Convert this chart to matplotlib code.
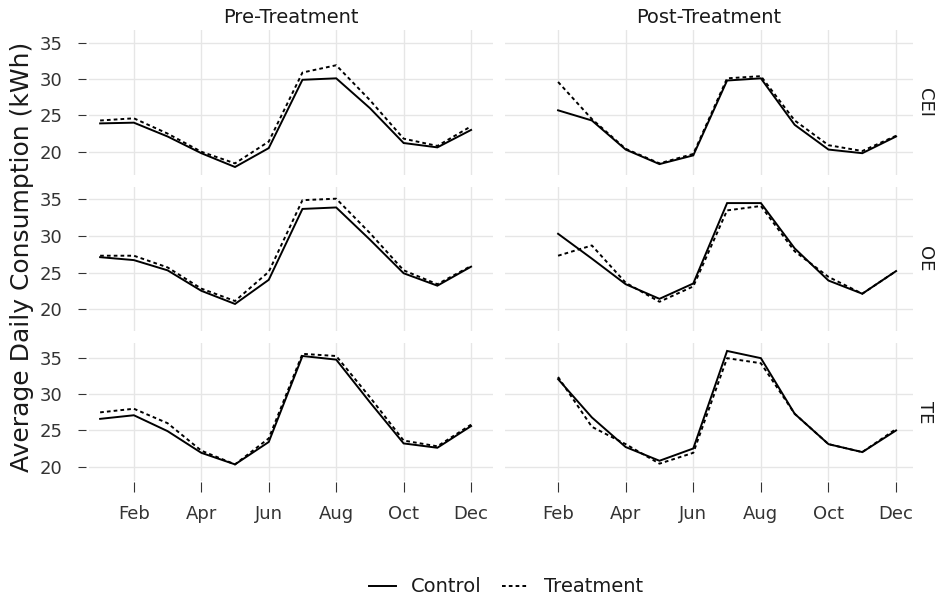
import matplotlib
matplotlib.use("Agg")
import matplotlib.pyplot as plt
from matplotlib.lines import Line2D

plt.rcParams['font.family'] = ['DejaVu Sans']

W, H = 936, 598

month_ticks = [2, 4, 6, 8, 10, 12]
month_labels = ['Feb', 'Apr', 'Jun', 'Aug', 'Oct', 'Dec']
pre_months = [1, 2, 3, 4, 5, 6, 7, 8, 9, 10, 11, 12]
post_months = [2, 3, 4, 5, 6, 7, 8, 9, 10, 11, 12]

groups = ['CEI', 'OE', 'TE']
periods = ['Pre-Treatment', 'Post-Treatment']

# Pre-treatment (Jan..Dec)
cei_pre_control = [23.9, 24.0, 22.1, 19.8, 17.9, 20.5, 29.9, 30.1, 26.0, 21.2, 20.6, 23.0]
cei_pre_treat = [24.3, 24.6, 22.5, 20.0, 18.4, 21.4, 30.9, 31.9, 27.1, 21.8, 20.8, 23.5]
oe_pre_control = [27.1, 26.7, 25.3, 22.5, 20.7, 24.0, 33.7, 33.9, 29.5, 24.9, 23.2, 25.8]
oe_pre_treat = [27.3, 27.3, 25.7, 22.8, 21.1, 25.1, 34.9, 35.1, 30.4, 25.3, 23.4, 25.9]
te_pre_control = [26.6, 27.1, 24.9, 21.9, 20.3, 23.4, 35.3, 34.8, 28.9, 23.2, 22.6, 25.6]
te_pre_treat = [27.5, 28.0, 26.0, 22.2, 20.3, 23.9, 35.6, 35.3, 29.6, 23.6, 22.8, 25.8]

# Post-treatment (Feb..Dec)
cei_post_control = [25.7, 24.3, 20.3, 18.3, 19.5, 29.8, 30.1, 23.7, 20.3, 19.8, 22.1]
cei_post_treat = [29.6, 24.5, 20.4, 18.4, 19.7, 30.1, 30.4, 24.3, 20.9, 20.1, 22.2]
oe_post_control = [30.3, 26.9, 23.4, 21.4, 23.5, 34.5, 34.5, 28.3, 23.9, 22.1, 25.2]
oe_post_treat = [27.3, 28.7, 23.6, 21.0, 23.1, 33.5, 34.1, 27.9, 24.4, 22.1, 25.2]
te_post_control = [32.1, 26.8, 22.7, 20.8, 22.5, 36.0, 35.0, 27.3, 23.1, 22.0, 25.0]
te_post_treat = [32.4, 25.5, 23.1, 20.4, 21.9, 35.0, 34.3, 27.3, 23.1, 22.0, 25.2]

data = {
    ('CEI', 0): (cei_pre_control, cei_pre_treat),
    ('CEI', 1): (cei_post_control, cei_post_treat),
    ('OE', 0): (oe_pre_control, oe_pre_treat),
    ('OE', 1): (oe_post_control, oe_post_treat),
    ('TE', 0): (te_pre_control, te_pre_treat),
    ('TE', 1): (te_post_control, te_post_treat),
}

fig = plt.figure(figsize=(W / 100, H / 100), dpi=100)

col_px = [(89, 493), (505, 913)]
row_px = [(30, 175), (187, 331), (343, 481)]
row_ylim = [(16.8, 36.75), (17.0, 36.7), (18.0, 37.1)]
col_xlim = [(0.67, 12.65), (0.43, 12.5)]

grid_c = '#e6e6e6'
tick_c = '#333333'
lw = 1.4
dash = (0, (1.9, 1.6))

axes = {}
for r, g in enumerate(groups):
    for c in range(2):
        x0, x1 = col_px[c]
        y0, y1 = row_px[r]
        ax = fig.add_axes([x0 / W, 1 - y1 / H, (x1 - x0) / W, (y1 - y0) / H])
        axes[(r, c)] = ax
        ctrl, trt = data[(g, c)]
        xs = pre_months if c == 0 else post_months
        ax.plot(xs, ctrl, color='black', lw=lw, solid_joinstyle='miter')
        ax.plot(xs, trt, color='black', lw=lw, linestyle=dash)
        ax.set_xlim(*col_xlim[c])
        ax.set_ylim(*row_ylim[r])
        ax.set_xticks(month_ticks)
        ax.set_yticks([20, 25, 30, 35])
        ax.grid(True, color=grid_c, lw=1.0)
        ax.set_axisbelow(True)
        for s in ax.spines.values():
            s.set_visible(False)
        ax.spines['left'].set_position(('outward', 2))
        ax.spines['bottom'].set_position(('outward', 1))
        ax.tick_params(axis='both', colors=tick_c, labelsize=13, width=0.8)
        ax.tick_params(axis='y', length=6, pad=11)
        ax.tick_params(axis='x', length=7, pad=9)
        if c == 0:
            ax.set_yticklabels(['20', '25', '30', '35'])
        else:
            ax.tick_params(axis='y', left=False, labelleft=False)
        if r == 2:
            ax.set_xticklabels(month_labels)
        else:
            ax.tick_params(axis='x', bottom=False, labelbottom=False)
        if r == 0:
            ax.text(0.5, 1.02, periods[c], transform=ax.transAxes, ha='center',
                    va='bottom', fontsize=14, color='#1a1a1a')

for r, g in enumerate(groups):
    y0, y1 = row_px[r]
    fig.text(925 / W, 1 - (y0 + y1) / 2 / H, g, ha='center', va='center',
             rotation=-90, fontsize=13, color='#1a1a1a')

fig.text(22 / W, 1 - 257 / H, 'Average Daily Consumption (kWh)', rotation=90,
         ha='center', va='center', fontsize=18, color='#1a1a1a')

handles = [Line2D([], [], color='black', lw=lw),
           Line2D([], [], color='black', lw=lw, linestyle=dash)]
fig.legend(handles, ['Control', 'Treatment'], loc='center',
           bbox_to_anchor=(506 / W, 1 - 587 / H), ncol=2, frameon=False,
           fontsize=14, handlelength=1.4, handletextpad=0.8, columnspacing=1.0,
           labelcolor='#1a1a1a')

fig.savefig('out.png', dpi=100)
